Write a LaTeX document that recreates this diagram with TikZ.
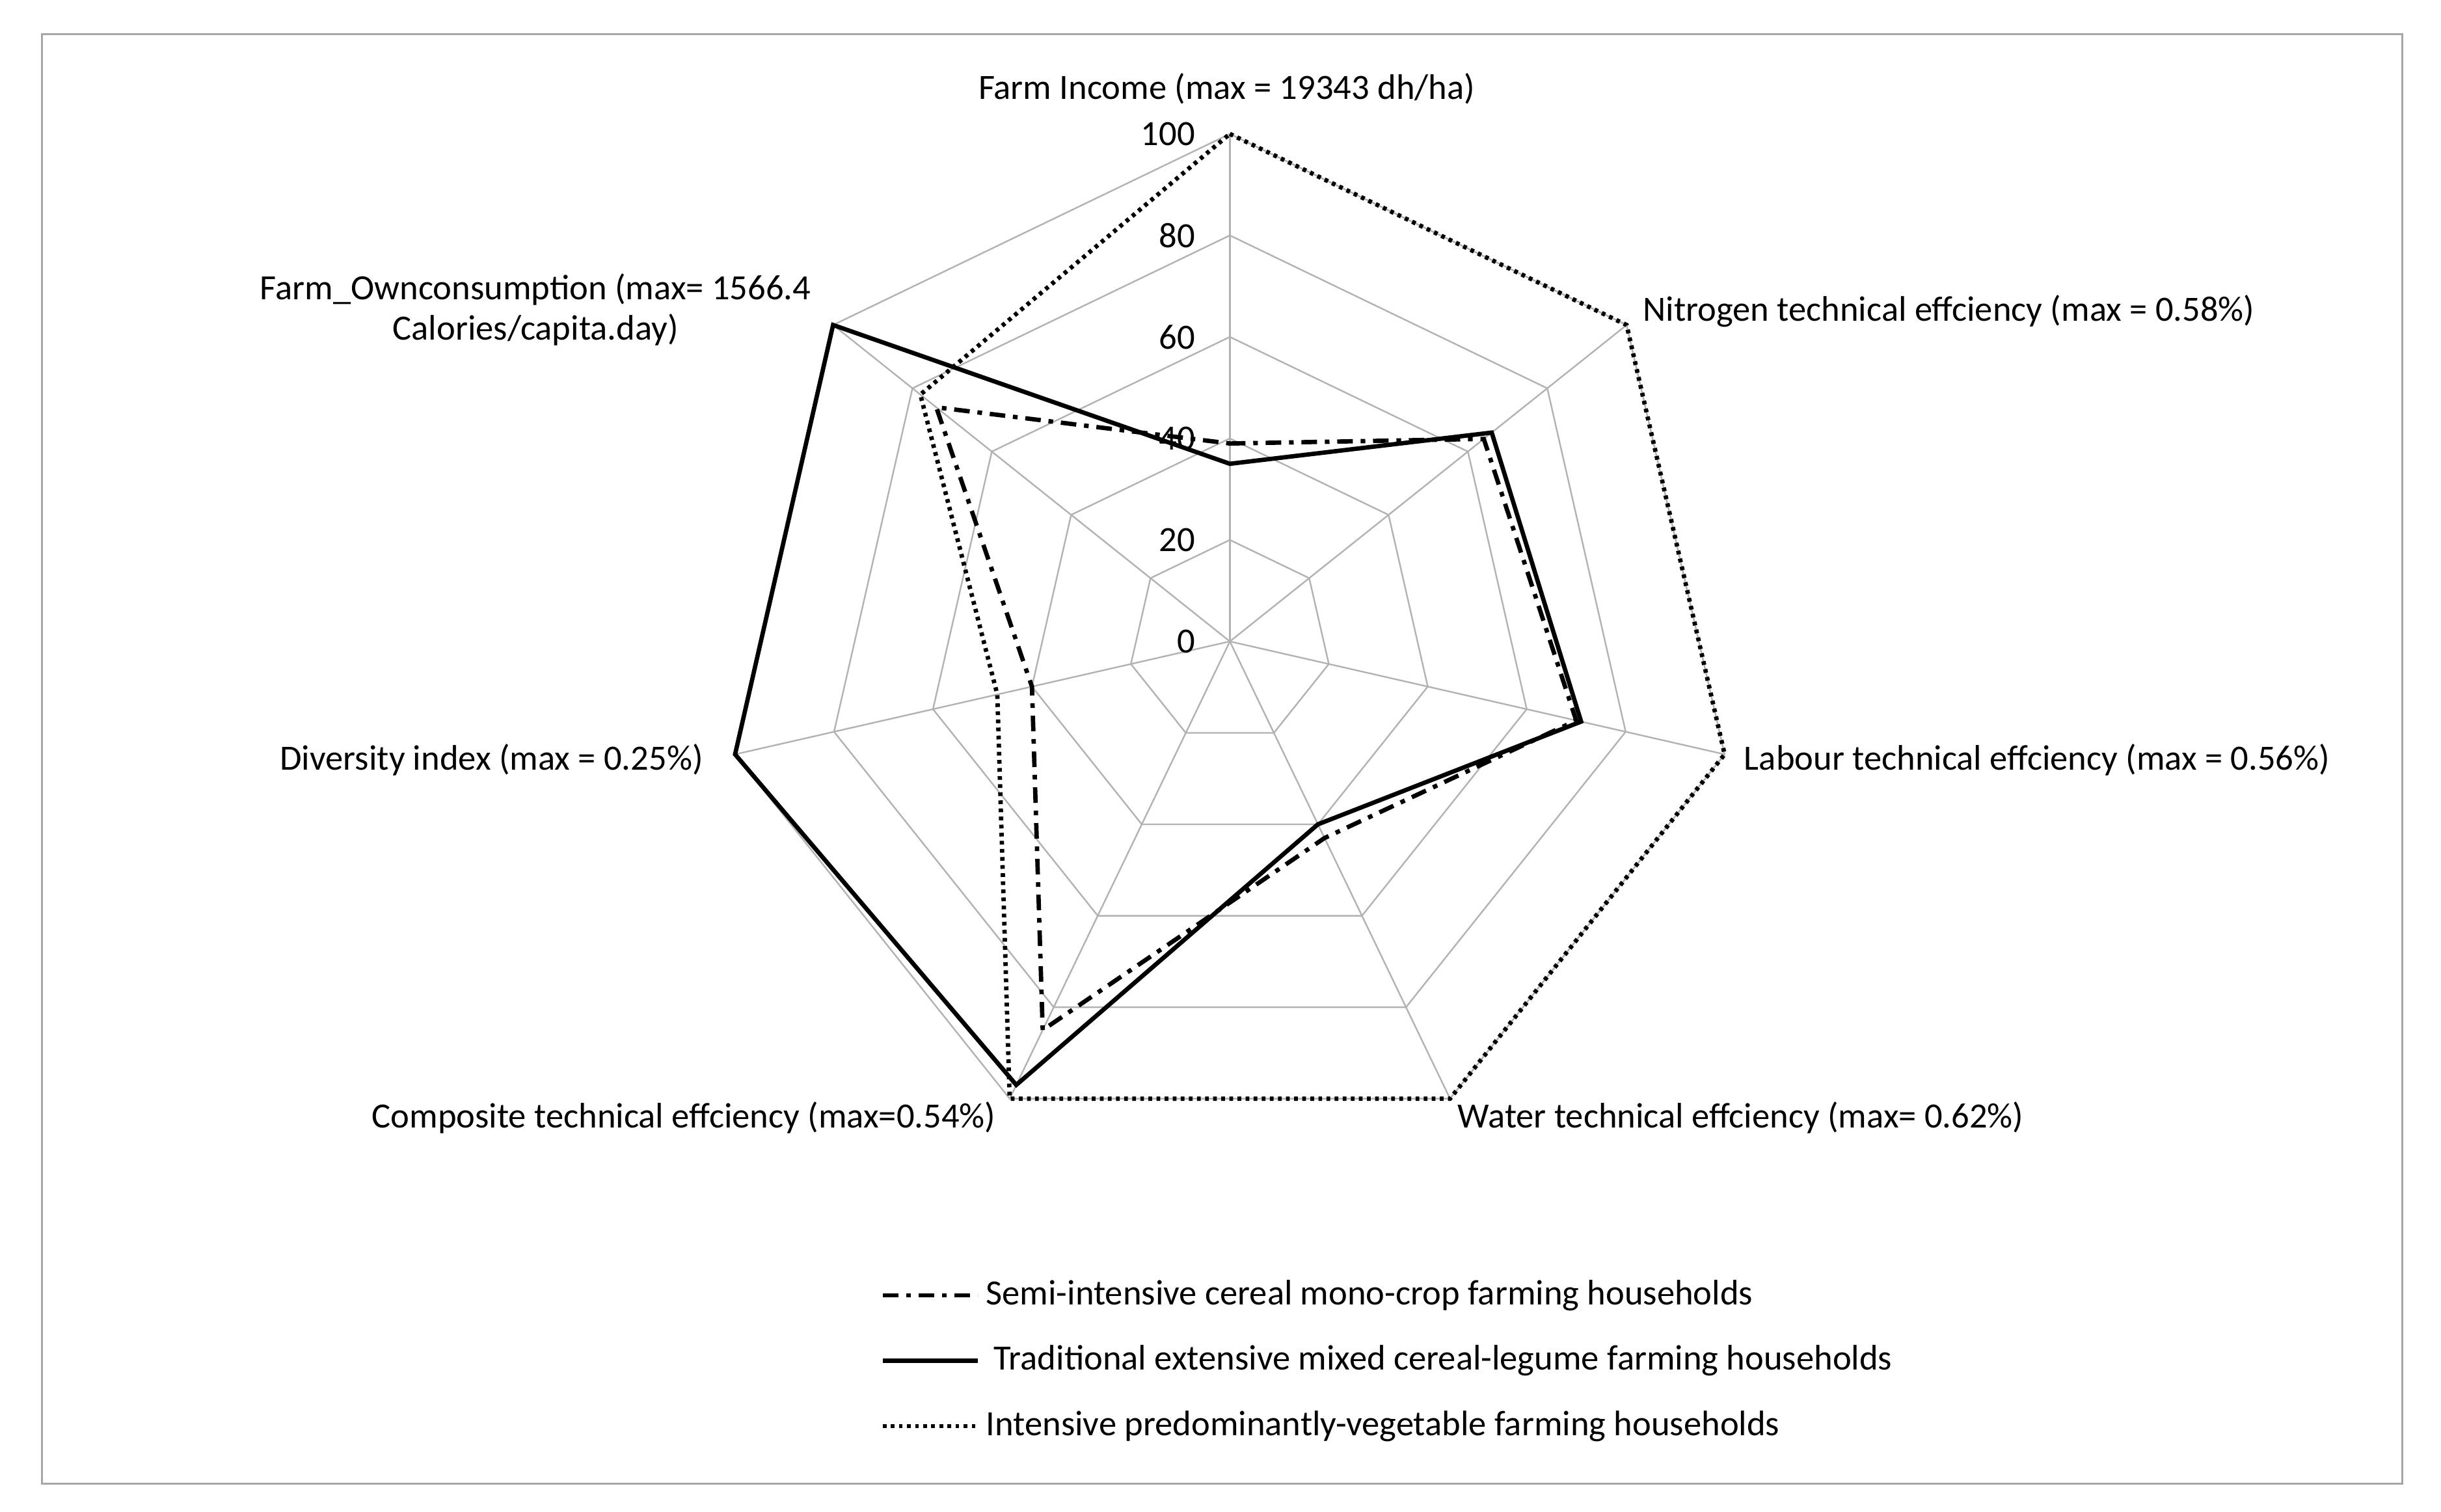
\documentclass[tikz,border=0pt]{standalone}
\usepackage{fontspec}
\setmainfont{Carlito}
\begin{document}
\begin{tikzpicture}[x=0.5pt,y=0.5pt,
  lbl/.style={font=\fontsize{11.4pt}{13pt}\selectfont,inner sep=0pt},
  grid/.style={draw=gray!60,line width=0.5pt},
  sdash/.style={line width=1.4pt,dash pattern=on 5pt off 2.5pt on 1.5pt off 2.5pt},
  ssolid/.style={line width=1.4pt},
  sdot/.style={line width=1.4pt,dash pattern=on 1.2pt off 1.4pt}]
\useasboundingbox (0,0) rectangle (1568,-971);
\draw[gray!70,line width=0.6pt] (27,-22) rectangle (1543,-953);
\begin{scope}[shift={(790,-412)}]
\foreach \r in {65.2,130.4,195.6,260.8,326}{
  \draw[grid] (90:\r) \foreach \k in {1,...,6}{ -- ({90-\k*360/7}:\r)} -- cycle;}
\foreach \k in {0,...,6}{\draw[grid] (0,0) -- ({90-\k*360/7}:326);}
\foreach \v in {0,20,...,100}{\node[lbl,anchor=east] (t\v) at (-22,3.26*\v) {\v};}
\coordinate (c) at (0,0);
\draw[sdot] (90:326) \foreach \k/\v in {1/100,2/100,3/100,4/100,5/47,6/78}{ -- ({90-\k*360/7}:{3.26*\v})} -- cycle;
\draw[ssolid] (90:{3.26*35}) \foreach \k/\v in {1/66,2/71,3/40,4/97,5/100,6/100}{ -- ({90-\k*360/7}:{3.26*\v})} -- cycle;
\draw[sdash] (90:{3.26*39}) \foreach \k/\v in {1/64,2/70,3/43,4/85,5/40,6/74}{ -- ({90-\k*360/7}:{3.26*\v})} -- cycle;
\end{scope}
\node[lbl] (a1) at (788,-57) {Farm Income (max = 19343 dh/ha)};
\node[lbl,anchor=west] (a2) at (1055,-200) {Nitrogen technical effciency (max = 0.58\%)};
\node[lbl,anchor=west] (a3) at (1120,-488) {Labour technical effciency (max = 0.56\%)};
\node[lbl,anchor=west] (a4) at (936,-718) {Water technical effciency (max= 0.62\%)};
\node[lbl,anchor=east] (a5) at (640,-718) {Composite technical effciency (max=0.54\%)};
\node[lbl,anchor=east] (a6) at (452,-488) {Diversity index (max = 0.25\%)};
\node[lbl,align=center] (a7) at (344,-199) {Farm\_Ownconsumption (max= 1566.4\\Calories/capita.day)};
\coordinate (l1a) at (567,-832); \coordinate (l1b) at (628,-832);
\coordinate (l2a) at (567,-874); \coordinate (l2b) at (628,-874);
\coordinate (l3a) at (567,-916); \coordinate (l3b) at (628,-916);
\draw[sdash] (l1a) -- (l1b);
\draw[ssolid] (l2a) -- (l2b);
\draw[sdot] (l3a) -- (l3b);
\node[lbl,anchor=west] (g1) at (633,-832) {Semi-intensive cereal mono-crop farming households};
\node[lbl,anchor=west] (g2) at (638,-874) {Traditional extensive mixed cereal-legume farming households};
\node[lbl,anchor=west] (g3) at (633,-916) {Intensive predominantly-vegetable farming households};
\end{tikzpicture}
\end{document}
